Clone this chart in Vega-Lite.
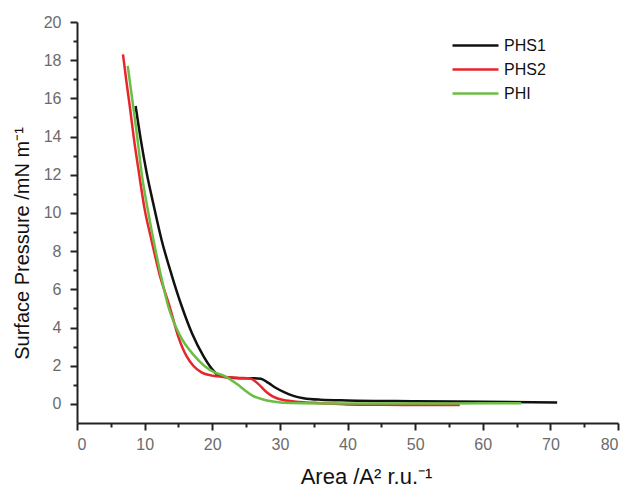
{
  "$schema": "https://vega.github.io/schema/vega-lite/v6.json",
  "width": 541,
  "height": 401,
  "autosize": {"type": "none"},
  "padding": {"left": 77, "top": 22, "right": 9, "bottom": 66},
  "background": "white",
  "config": {"view": {"stroke": null}, "font": "Liberation Sans"},
  "data": {"values": [
    {"s":"PHS1","x":8.67,"y":15.6},{"s":"PHS1","x":9.45,"y":13.8},{"s":"PHS1","x":10.3,"y":12.1},{"s":"PHS1","x":11.4,"y":10.3},{"s":"PHS1","x":12.5,"y":8.6},{"s":"PHS1","x":14.0,"y":6.75},{"s":"PHS1","x":15.5,"y":5.1},{"s":"PHS1","x":17.0,"y":3.7},{"s":"PHS1","x":18.7,"y":2.5},{"s":"PHS1","x":19.8,"y":1.9},{"s":"PHS1","x":20.9,"y":1.5},{"s":"PHS1","x":22.6,"y":1.38},{"s":"PHS1","x":24.0,"y":1.35},{"s":"PHS1","x":26.0,"y":1.35},{"s":"PHS1","x":27.2,"y":1.32},{"s":"PHS1","x":28.3,"y":1.1},{"s":"PHS1","x":29.5,"y":0.82},{"s":"PHS1","x":30.7,"y":0.6},{"s":"PHS1","x":32.0,"y":0.42},{"s":"PHS1","x":33.5,"y":0.3},{"s":"PHS1","x":36.0,"y":0.22},{"s":"PHS1","x":40.0,"y":0.18},{"s":"PHS1","x":50.0,"y":0.14},{"s":"PHS1","x":60.0,"y":0.11},{"s":"PHS1","x":71.0,"y":0.08},
    {"s":"PHS2","x":6.8,"y":18.3},{"s":"PHS2","x":7.3,"y":16.9},{"s":"PHS2","x":7.8,"y":15.6},{"s":"PHS2","x":8.45,"y":13.8},{"s":"PHS2","x":9.16,"y":12.1},{"s":"PHS2","x":10.0,"y":10.2},{"s":"PHS2","x":11.0,"y":8.6},{"s":"PHS2","x":12.2,"y":6.8},{"s":"PHS2","x":13.7,"y":5.1},{"s":"PHS2","x":15.0,"y":3.5},{"s":"PHS2","x":16.2,"y":2.5},{"s":"PHS2","x":17.2,"y":2.0},{"s":"PHS2","x":18.4,"y":1.65},{"s":"PHS2","x":20.0,"y":1.48},{"s":"PHS2","x":22.2,"y":1.4},{"s":"PHS2","x":24.0,"y":1.36},{"s":"PHS2","x":25.6,"y":1.33},{"s":"PHS2","x":26.8,"y":1.05},{"s":"PHS2","x":28.0,"y":0.62},{"s":"PHS2","x":29.0,"y":0.38},{"s":"PHS2","x":30.5,"y":0.2},{"s":"PHS2","x":33.0,"y":0.1},{"s":"PHS2","x":36.0,"y":0.04},{"s":"PHS2","x":40.0,"y":-0.03},{"s":"PHS2","x":45.0,"y":-0.05},{"s":"PHS2","x":50.0,"y":-0.06},{"s":"PHS2","x":56.6,"y":-0.06},
    {"s":"PHI","x":7.5,"y":17.7},{"s":"PHI","x":8.3,"y":15.6},{"s":"PHI","x":8.9,"y":14.0},{"s":"PHI","x":9.55,"y":12.1},{"s":"PHI","x":10.4,"y":10.3},{"s":"PHI","x":11.3,"y":8.6},{"s":"PHI","x":12.3,"y":6.9},{"s":"PHI","x":13.5,"y":5.1},{"s":"PHI","x":15.2,"y":3.6},{"s":"PHI","x":17.4,"y":2.5},{"s":"PHI","x":18.8,"y":2.0},{"s":"PHI","x":20.4,"y":1.64},{"s":"PHI","x":21.6,"y":1.5},{"s":"PHI","x":22.6,"y":1.3},{"s":"PHI","x":23.8,"y":1.0},{"s":"PHI","x":24.8,"y":0.72},{"s":"PHI","x":26.0,"y":0.42},{"s":"PHI","x":27.8,"y":0.2},{"s":"PHI","x":29.5,"y":0.1},{"s":"PHI","x":31.5,"y":0.05},{"s":"PHI","x":40.0,"y":0.02},{"s":"PHI","x":50.0,"y":0.02},{"s":"PHI","x":60.0,"y":0.03},{"s":"PHI","x":65.7,"y":0.03}
  ]},
  "mark": {"type": "line", "strokeWidth": 2.5, "interpolate": "monotone"},
  "encoding": {
    "x": {"field": "x", "type": "quantitative",
      "scale": {"domain": [0, 80], "nice": false, "zero": false},
      "axis": {"title": "Area /A² r.u.⁻¹", "values": [0,5,10,15,20,25,30,35,40,45,50,55,60,65,70,75,80],
        "labelExpr": "datum.value % 10 === 0 ? datum.label : ''",
        "tickSize": {"condition": {"test": "datum.value % 10 === 0", "value": 7}, "value": 4},
        "grid": false, "domainColor": "#222", "domainWidth": 2, "tickColor": "#222", "tickWidth": 2,
        "labelColor": "#6b6b6b", "labelFontSize": 16, "labelPadding": 6, "labelFont": "Liberation Sans",
        "titleFont": "Liberation Sans", "titleFontSize": 22, "titleFontWeight": "normal", "titleColor": "#111",
        "titlePadding": 14, "titleX": 289}},
    "y": {"field": "y", "type": "quantitative",
      "scale": {"domain": [-1, 20], "nice": false, "zero": false},
      "axis": {"title": "Surface Pressure /mN m⁻¹", "values": [0,1,2,3,4,5,6,7,8,9,10,11,12,13,14,15,16,17,18,19,20],
        "labelExpr": "datum.value % 2 === 0 ? datum.label : ''",
        "tickSize": {"condition": {"test": "datum.value % 2 === 0", "value": 7}, "value": 4},
        "grid": false, "domainColor": "#222", "domainWidth": 2, "tickColor": "#222", "tickWidth": 2,
        "labelColor": "#6b6b6b", "labelFontSize": 16, "labelPadding": 9, "labelFont": "Liberation Sans",
        "titleFont": "Liberation Sans", "titleFontSize": 20, "titleFontWeight": "normal", "titleColor": "#111",
        "titlePadding": 11, "titleY": 221}},
    "color": {"field": "s", "type": "nominal",
      "scale": {"domain": ["PHS1", "PHS2", "PHI"], "range": ["#111111", "#e8252b", "#6bbd45"]},
      "legend": {"title": null, "orient": "none", "legendX": 387, "legendY": 12,
        "symbolType": "M-2.3,0H2.3", "symbolSize": 400, "symbolStrokeWidth": 2.5,
        "labelFontSize": 16, "labelColor": "#111", "labelFont": "Liberation Sans", "labelOffset": 17,
        "rowPadding": 4}},
    "order": {"field": "x", "type": "quantitative"}
  }
}
